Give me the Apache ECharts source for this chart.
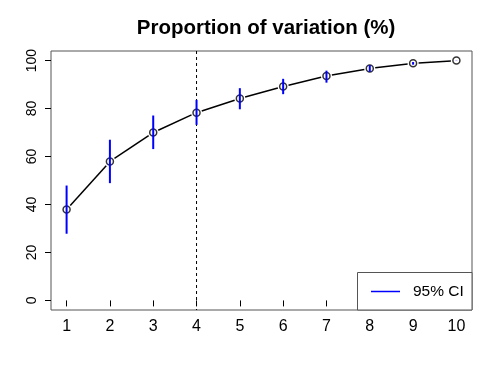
<!DOCTYPE html>
<html><head><meta charset="utf-8">
<script src="https://cdn.jsdelivr.net/npm/echarts@6/dist/echarts.min.js"></script>
<style>html,body{margin:0;padding:0;background:#fff}#c{width:498px;height:374px}</style>
</head><body><div id="c"></div>
<script>
const components = [1,2,3,4,5,6,7,8,9,10];
const proportion = [37.9, 57.9, 70.0, 78.3, 84.2, 89.2, 93.6, 96.7, 98.9, 100];
const ciLow  = [27.8, 48.9, 63.1, 73.2, 79.7, 86.0, 90.8, 95.3, 98.3, 99.9];
const ciHigh = [47.9, 67.0, 77.1, 83.6, 88.5, 92.4, 95.8, 98.1, 99.4, 100];
const chosen = 4;
const yTicks = [0,20,40,60,80,100];
const titleText = 'Proportion of variation (%)';
const legendText = '95% CI';

const FONT = '"Liberation Sans", Arial, sans-serif';
const chart = echarts.init(document.getElementById('c'), null, {renderer:'canvas'});
const pts = components.map((c,i)=>[c, proportion[i]]);
const segs = components.slice(0,-1).map((c,i)=>[c, proportion[i], components[i+1], proportion[i+1]]);
const cis = components.map((c,i)=>[c, ciLow[i], ciHigh[i]]);

chart.setOption({
  animation:false,
  title:{text:titleText,left:261,top:13,textAlign:'center',
    textStyle:{fontFamily:FONT,fontSize:20.5,fontWeight:'bold',color:'#000'}},
  grid:{left:51,right:26,top:51,bottom:64,show:true,borderColor:'#555',borderWidth:1,backgroundColor:'transparent'},
  xAxis:{type:'value',min:0.64,max:10.36,
    axisLine:{show:false},splitLine:{show:false},
    axisTick:{show:true,length:6,customValues:components,lineStyle:{color:'#000'}},
    axisLabel:{customValues:components,margin:9,fontFamily:FONT,fontSize:16,color:'#000'}},
  yAxis:{type:'value',min:-4,max:104,
    axisLine:{show:false},splitLine:{show:false},
    axisTick:{show:true,length:6,customValues:yTicks,lineStyle:{color:'#000'}},
    axisLabel:{customValues:yTicks,rotate:90,margin:12,fontFamily:FONT,fontSize:14,color:'#000'}},
  series:[
    {type:'custom',data:[[chosen]],z:1,
     renderItem:(p,api)=>{
       const a=api.coord([api.value(0),104]), b=api.coord([api.value(0),-4]);
       return {type:'line',shape:{x1:a[0],y1:a[1],x2:b[0],y2:b[1]},
         style:{stroke:'#000',lineWidth:1,lineDash:[3,3]}};
     }},
    {type:'custom',data:segs,z:2,
     renderItem:(p,api)=>{
       const a=api.coord([api.value(0),api.value(1)]), b=api.coord([api.value(2),api.value(3)]);
       const dx=b[0]-a[0], dy=b[1]-a[1], L=Math.hypot(dx,dy), g=5.5;
       const ux=dx/L, uy=dy/L;
       return {type:'line',shape:{x1:a[0]+ux*g,y1:a[1]+uy*g,x2:b[0]-ux*g,y2:b[1]-uy*g},
         style:{stroke:'#000',lineWidth:1.5}};
     }},
    {type:'scatter',data:pts,z:3,symbol:'circle',symbolSize:7,
     itemStyle:{color:'transparent',borderColor:'#000',borderWidth:1.5}},
    {type:'custom',data:cis,z:4,
     renderItem:(p,api)=>{
       const a=api.coord([api.value(0),api.value(1)]), b=api.coord([api.value(0),api.value(2)]);
       return {type:'line',shape:{x1:a[0],y1:a[1],x2:b[0],y2:b[1]},
         style:{stroke:'#0000ff',lineWidth:2}};
     }}
  ],
  graphic:[
    {type:'rect',shape:{x:357.5,y:272.5,width:114.5,height:37.5},
     style:{fill:'#fff',stroke:'#555',lineWidth:1},z:10},
    {type:'line',shape:{x1:371,y1:291.5,x2:400,y2:291.5},style:{stroke:'#0000ff',lineWidth:1.5},z:11},
    {type:'text',x:413,y:292,style:{text:legendText,fontFamily:FONT,fontSize:15.5,fill:'#000',textVerticalAlign:'middle'},z:11}
  ]
});
</script></body></html>
